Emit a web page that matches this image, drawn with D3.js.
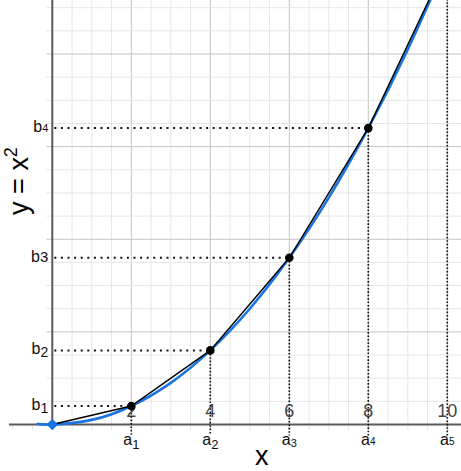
<!DOCTYPE html>
<html>
<head>
<meta charset="utf-8">
<script src="https://cdn.jsdelivr.net/npm/d3@7"></script>
<style>
  html, body { margin: 0; padding: 0; background: #fff; }
  svg { display: block; font-family: "Liberation Sans", Arial, Helvetica, sans-serif; }
</style>
</head>
<body>
<svg id="chart" width="461" height="471"></svg>
<script>
// ---- data ----
const pointX = [2, 4, 6, 8];
const pointY = [4, 16, 36, 64];
const chordX = [0, 2, 4, 6, 8, 10];
const chordY = [0, 4, 16, 36, 64, 100];
const curveX = [-0.4, 0, 1, 2, 3, 4, 5, 6, 7, 8, 9, 10];
const curveY = [0.16, 0, 1, 4, 9, 16, 25, 36, 49, 64, 81, 100];
const xTickValues = [2, 4, 6, 8, 10];
const xTickLabels = ["2", "4", "6", "8", "10"];
const aSubs = ["1", "2", "3", "4", "5"];
const aX = [2, 4, 6, 8, 10];
const aY = [4, 16, 36, 64, 100];
const bSubs = ["1", "2", "3", "4"];

const W = 461, H = 471;
const svg = d3.select("#chart");

const x = d3.scaleLinear().domain([0, 10]).range([52.3, 447.3]);
const y = d3.scaleLinear().domain([0, 80]).range([424.5, 54]);

const xMax = x.invert(W);
const yMax = y.invert(0);

// ---- grid ----
const g = svg.append("g");
const vTicks = d3.range(-1, xMax, 0.5);
const hTicks = d3.range(5, yMax, 5);
vTicks.forEach(v => {
  if (v === 0) return;
  const major = Math.abs(v % 2) < 1e-9;
  const top = v > 0 ? 0 : y(0);
  g.append("line")
    .attr("x1", x(v)).attr("x2", x(v))
    .attr("y1", top).attr("y2", y(0) + 5.5)
    .attr("stroke", major ? "#c4c4c4" : "#e6e6e6")
    .attr("stroke-width", 1);
});
hTicks.forEach(v => {
  const major = v % 20 === 0;
  g.append("line")
    .attr("x1", x(0) - 6).attr("x2", W)
    .attr("y1", y(v)).attr("y2", y(v))
    .attr("stroke", major ? "#c4c4c4" : "#e6e6e6")
    .attr("stroke-width", 1);
});

// ---- axes ----
svg.append("line")
  .attr("x1", x(0)).attr("x2", x(0))
  .attr("y1", 0).attr("y2", y(0))
  .attr("stroke", "#5a5a5a").attr("stroke-width", 2);
svg.append("line")
  .attr("x1", 9).attr("x2", W)
  .attr("y1", y(0)).attr("y2", y(0))
  .attr("stroke", "#5a5a5a").attr("stroke-width", 2);

// ---- x tick labels ----
svg.append("g").selectAll("text")
  .data(xTickValues)
  .join("text")
  .attr("x", d => x(d))
  .attr("y", y(0) - 8)
  .attr("text-anchor", "middle")
  .attr("font-size", 18)
  .attr("fill", "#444")
  .attr("stroke", "#fff")
  .attr("stroke-width", 3)
  .attr("paint-order", "stroke")
  .text((d, i) => xTickLabels[i]);

// ---- dotted guide lines ----
const guides = svg.append("g");
aX.forEach((v, i) => {
  guides.append("line")
    .attr("x1", x(v)).attr("x2", x(v))
    .attr("y1", y(aY[i])).attr("y2", y(0) + 11)
    .attr("stroke", "#111").attr("stroke-width", 1.6)
    .attr("stroke-dasharray", "1.6 1.8");
});
pointY.forEach((v, i) => {
  guides.append("line")
    .attr("x1", x(0) + 2).attr("x2", x(pointX[i]))
    .attr("y1", y(v)).attr("y2", y(v))
    .attr("stroke", "#111").attr("stroke-width", 2)
    .attr("stroke-dasharray", "2 4.6");
});

// ---- curve & chord ----
const curveData = curveX.map((v, i) => [v, curveY[i]]);
svg.append("path")
  .datum(curveData)
  .attr("fill", "none")
  .attr("stroke", "#1a74e4")
  .attr("stroke-width", 2.6)
  .attr("d", d3.line().x(d => x(d[0])).y(d => y(d[1])).curve(d3.curveNatural));

const chordData = chordX.map((v, i) => [v, chordY[i]]);
svg.append("path")
  .datum(chordData)
  .attr("fill", "none")
  .attr("stroke", "#000")
  .attr("stroke-width", 1.4)
  .attr("d", d3.line().x(d => x(d[0])).y(d => y(d[1])));

// origin diamond
svg.append("path")
  .attr("d", d3.symbol().type(d3.symbolDiamond2).size(85)())
  .attr("transform", `translate(${x(0)},${y(0)})`)
  .attr("fill", "#1a74e4");

// points
svg.append("g").selectAll("circle")
  .data(pointX)
  .join("circle")
  .attr("cx", d => x(d))
  .attr("cy", (d, i) => y(pointY[i]))
  .attr("r", 4.3)
  .attr("fill", "#000");

// ---- a labels ----
const aG = svg.append("g");
aX.forEach((v, i) => {
  const t = aG.append("text")
    .attr("x", x(v)).attr("y", 445)
    .attr("text-anchor", "middle")
    .attr("font-size", 16).attr("fill", "#111");
  t.append("tspan").text("a");
  const big = i < 2;
  t.append("tspan")
    .attr("font-size", big ? 13 : (i === 2 ? 11 : 10))
    .attr("dy", big ? 4 : (i === 2 ? 2 : 0))
    .text(aSubs[i]);
});

// ---- b labels ----
const bG = svg.append("g");
pointY.forEach((v, i) => {
  const t = bG.append("text")
    .attr("x", x(0) - 4).attr("y", y(v) + 4)
    .attr("text-anchor", "end")
    .attr("font-size", 16).attr("fill", "#111");
  t.append("tspan").text("b");
  const sub = t.append("tspan").text(bSubs[i]);
  if (i < 2) sub.attr("font-size", 14).attr("dy", 3);
  else if (i === 2) sub.attr("font-size", 15);
  else sub.attr("font-size", 11);
});

// ---- axis titles ----
svg.append("text")
  .attr("x", x(5.3)).attr("y", 465)
  .attr("text-anchor", "middle")
  .attr("font-size", 27).attr("fill", "#000")
  .text("x");

const yl = svg.append("text")
  .attr("transform", "translate(28,181) rotate(-90)")
  .attr("text-anchor", "middle")
  .attr("font-size", 27).attr("fill", "#000");
yl.append("tspan").text("y = x");
yl.append("tspan").attr("font-size", 18).attr("dy", -11).text("2");
</script>
</body>
</html>
